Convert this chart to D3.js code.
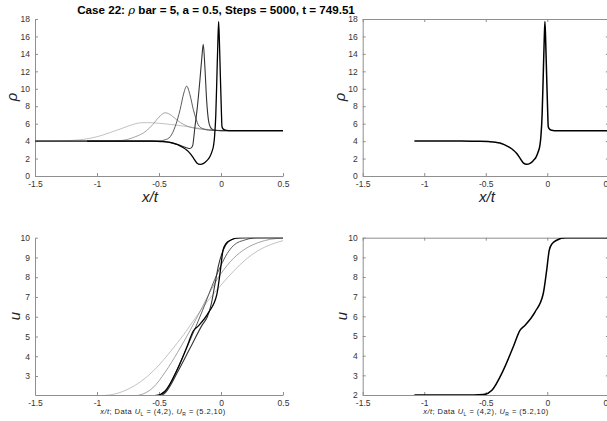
<!DOCTYPE html>
<html>
<head>
<meta charset="utf-8">
<script src="https://cdn.jsdelivr.net/npm/d3@7"></script>
<style>
body { margin: 0; background: #fff; }
svg { display: block; font-family: "Liberation Sans", Arial, Helvetica, sans-serif; }
</style>
</head>
<body>
<svg id="chart" width="607" height="421"></svg>
<script>
const xTicks = [-1.5, -1, -0.5, 0, 0.5];
const xTickLabels = ["-1.5", "-1", "-0.5", "0", "0.5"];
const rhoTicks = [0, 2, 4, 6, 8, 10, 12, 14, 16, 18];
const uTicksLeft = [3, 4, 5, 6, 7, 8, 9, 10];
const uTicksRight = [2, 3, 4, 5, 6, 7, 8, 9, 10];

// density at successive times, lightest = earliest
const rho1X = [-1.5, -1.3, -1.2, -1.1, -1.0, -0.9, -0.8, -0.7, -0.65, -0.6, -0.5, -0.4, -0.3, -0.2, -0.1, 0, 0.1, 0.5];
const rho1Y = [4.0, 4.02, 4.08, 4.22, 4.5, 4.95, 5.45, 5.95, 6.1, 6.12, 6.05, 5.9, 5.72, 5.52, 5.33, 5.23, 5.2, 5.2];
const rho2X = [-1.5, -0.9, -0.8, -0.7, -0.6, -0.55, -0.5, -0.45, -0.4, -0.35, -0.3, -0.25, -0.2, -0.1, 0, 0.5];
const rho2Y = [4.0, 4.01, 4.08, 4.45, 5.2, 5.9, 6.75, 7.25, 6.95, 6.35, 5.9, 5.6, 5.45, 5.28, 5.21, 5.2];
const rho3X = [-1.5, -0.6, -0.5, -0.45, -0.41, -0.37, -0.33, -0.3, -0.277, -0.25, -0.223, -0.2, -0.183, -0.15, -0.1, -0.05, 0, 0.5];
const rho3Y = [4.0, 4.0, 4.02, 4.15, 4.5, 5.65, 7.6, 9.5, 10.3, 9.3, 7.6, 6.5, 5.85, 5.45, 5.27, 5.22, 5.2, 5.2];
const rho4X = [-1.5, -0.6, -0.5, -0.45, -0.4, -0.35, -0.3, -0.27, -0.25, -0.23, -0.21, -0.19, -0.17, -0.155, -0.143, -0.13, -0.115, -0.1, -0.085, -0.07, -0.05, 0, 0.5];
const rho4Y = [4.0, 4.0, 3.98, 3.93, 3.8, 3.6, 3.35, 3.2, 3.15, 3.4, 5.65, 8.0, 11.0, 13.5, 15.1, 12.5, 8.5, 6.3, 5.6, 5.35, 5.25, 5.2, 5.2];
const rho5X = [-1.08, -0.7, -0.55, -0.48, -0.42, -0.385, -0.35, -0.31, -0.277, -0.25, -0.222, -0.195, -0.168, -0.14, -0.114, -0.09, -0.073, -0.06, -0.052, -0.042, -0.033, -0.025, -0.019, -0.012, -0.005, 0.003, 0.008, 0.02, 0.035, 0.06, 0.6];
const rho5Y = [4.0, 4.0, 3.99, 3.95, 3.88, 3.78, 3.6, 3.3, 2.98, 2.6, 2.05, 1.5, 1.34, 1.45, 1.76, 2.2, 2.8, 3.5, 4.5, 7.0, 11.4, 15.5, 17.7, 15.0, 11.4, 7.5, 5.65, 5.35, 5.25, 5.2, 5.2];

// velocity at the same times
const u1X = [-1.5, -1.0, -0.9, -0.8, -0.7, -0.6, -0.5, -0.4, -0.3, -0.2, -0.1, 0, 0.1, 0.2, 0.3, 0.4, 0.5];
const u1Y = [2.0, 2.0, 2.04, 2.2, 2.5, 2.95, 3.55, 4.3, 5.1, 6.0, 6.85, 7.6, 8.3, 8.9, 9.35, 9.65, 9.85];
const u2X = [-1.5, -0.7, -0.65, -0.55, -0.45, -0.35, -0.25, -0.15, -0.05, 0.05, 0.1, 0.2, 0.3, 0.4, 0.5];
const u2Y = [2.0, 2.0, 2.05, 2.4, 3.2, 4.2, 5.3, 6.5, 7.7, 8.6, 8.95, 9.45, 9.75, 9.92, 9.98];
const u3X = [-1.5, -0.5, -0.45, -0.35, -0.25, -0.15, -0.05, 0, 0.05, 0.1, 0.2, 0.3, 0.5];
const u3Y = [2.0, 2.0, 2.2, 3.4, 4.8, 6.3, 7.9, 8.6, 9.2, 9.6, 9.9, 10, 10];
const u4X = [-1.5, -0.5, -0.45, -0.35, -0.25, -0.15, -0.11, -0.08, -0.05, -0.02, 0.02, 0.06, 0.12, 0.2, 0.5];
const u4Y = [2.0, 2.0, 2.15, 3.2, 4.4, 5.6, 6.0, 6.6, 7.6, 8.6, 9.4, 9.8, 9.97, 10, 10];
const u5X = [-1.08, -0.6, -0.52, -0.452, -0.358, -0.277, -0.222, -0.182, -0.1, -0.033, -0.005, 0.016, 0.04, 0.076, 0.15, 0.6];
const u5Y = [2.0, 2.0, 2.02, 2.23, 3.25, 4.44, 5.29, 5.54, 6.22, 7.15, 8.34, 9.36, 9.7, 9.87, 10, 10];

const rhoSeries = [[rho1X, rho1Y], [rho2X, rho2Y], [rho3X, rho3Y], [rho4X, rho4Y], [rho5X, rho5Y]];
const uSeries = [[u1X, u1Y], [u2X, u2Y], [u3X, u3Y], [u4X, u4Y], [u5X, u5Y]];
const lineColors = ["#a8a8a8", "#8c8c8c", "#5a5a5a", "#333333", "#000000"];
const lineWidths = [0.7, 0.8, 1.0, 1.1, 1.3];

const axisColor = "#8f8f8f";
const textColor = "#333";
const svg = d3.select("#chart");

function styleAxis(g) {
  g.attr("font-family", null).attr("font-size", null);
  g.select(".domain").attr("stroke", axisColor).attr("stroke-width", 1);
  g.selectAll(".tick line").attr("stroke", axisColor);
  g.selectAll(".tick text").attr("fill", textColor).attr("font-size", 8.5);
}

function drawPanel(cfg) {
  const x = d3.scaleLinear().domain([-1.5, 0.5]).range([cfg.x0, cfg.x1]);
  const y = d3.scaleLinear().domain(cfg.yDomain).range([cfg.y1, cfg.y0]);

  svg.append("clipPath").attr("id", "clip-" + cfg.name)
    .append("rect")
    .attr("x", cfg.x0).attr("y", cfg.y0)
    .attr("width", cfg.x1 - cfg.x0).attr("height", cfg.y1 - cfg.y0);

  const xAxis = d3.axisBottom(x).tickValues(xTicks).tickFormat((d, i) => xTickLabels[i])
    .tickSizeInner(-3).tickSizeOuter(0).tickPadding(5);
  const yAxis = d3.axisLeft(y).tickValues(cfg.yTicks).tickFormat(d3.format("d"))
    .tickSizeInner(-3).tickSizeOuter(0).tickPadding(5);

  svg.append("g").attr("transform", `translate(0,${cfg.y1})`).call(xAxis).call(styleAxis);
  svg.append("g").attr("transform", `translate(${cfg.x0},0)`).call(yAxis).call(styleAxis);

  if (cfg.box) {
    svg.append("g").attr("transform", `translate(0,${cfg.y0})`)
      .call(d3.axisTop(x).tickValues(xTicks).tickFormat("").tickSizeInner(-3).tickSizeOuter(0))
      .call(styleAxis);
    svg.append("g").attr("transform", `translate(${cfg.x1},0)`)
      .call(d3.axisRight(y).tickValues(cfg.yTicks).tickFormat("").tickSizeInner(-3).tickSizeOuter(0))
      .call(styleAxis);
  }

  const plot = svg.append("g").attr("clip-path", `url(#clip-${cfg.name})`);
  cfg.series.forEach((s, k) => {
    const [xs, ys] = s;
    const line = d3.line()
      .curve(d3.curveMonotoneX)
      .x(i => x(xs[i]))
      .y(i => y(ys[i]));
    plot.append("path")
      .attr("fill", "none")
      .attr("stroke", cfg.colors[k])
      .attr("stroke-width", cfg.widths[k])
      .attr("stroke-linejoin", "round")
      .attr("d", line(d3.range(xs.length)));
  });
}

function yLabel(txt, cx, cy) {
  svg.append("text")
    .attr("transform", `translate(${cx},${cy}) rotate(-90)`)
    .attr("text-anchor", "middle").attr("dy", "0.35em")
    .attr("font-size", 15).attr("font-style", "italic").attr("fill", "#222")
    .text(txt);
}

function xLabel(cx, cy) {
  svg.append("text")
    .attr("x", cx).attr("y", cy)
    .attr("text-anchor", "middle")
    .attr("font-size", 15).attr("font-style", "italic").attr("fill", "#222")
    .text("x/t");
}

function dataLabel(cx, cy) {
  const t = svg.append("text")
    .attr("x", cx).attr("y", cy)
    .attr("text-anchor", "middle")
    .attr("font-size", 7.5).attr("letter-spacing", 0.45).attr("fill", "#222");
  t.append("tspan").attr("font-style", "italic").text("x/t");
  t.append("tspan").text(";  Data ");
  t.append("tspan").attr("font-style", "italic").text("U");
  t.append("tspan").attr("font-size", 5).attr("dy", 2).text("L");
  t.append("tspan").attr("dy", -2).text(" = (4,2), ");
  t.append("tspan").attr("font-style", "italic").text("U");
  t.append("tspan").attr("font-size", 5).attr("dy", 2).text("R");
  t.append("tspan").attr("dy", -2).text(" = (5.2,10)");
}

drawPanel({ name: "rhoAll", x0: 35, x1: 283, y0: 19, y1: 176, yDomain: [0, 18], yTicks: rhoTicks,
  series: rhoSeries, colors: lineColors, widths: lineWidths, box: false });
drawPanel({ name: "rhoLast", x0: 362.7, x1: 608.8, y0: 19, y1: 176, yDomain: [0, 18], yTicks: rhoTicks,
  series: [rhoSeries[4]], colors: ["#000"], widths: [1.5], box: true });
drawPanel({ name: "uAll", x0: 35, x1: 283, y0: 237.7, y1: 395, yDomain: [2.04, 10], yTicks: uTicksLeft,
  series: uSeries, colors: lineColors, widths: lineWidths, box: false });
drawPanel({ name: "uLast", x0: 362.7, x1: 608.8, y0: 237.7, y1: 395, yDomain: [2, 10], yTicks: uTicksRight,
  series: [uSeries[4]], colors: ["#000"], widths: [1.5], box: true });

yLabel("\u03c1", 12, 97);
yLabel("\u03c1", 340, 97);
yLabel("u", 15, 316);
yLabel("u", 342, 316);
xLabel(150, 202);
xLabel(487, 202);
dataLabel(163, 414);
dataLabel(486, 414);

const title = svg.append("text")
  .attr("x", 216).attr("y", 13.5)
  .attr("text-anchor", "middle")
  .attr("font-size", 12).attr("font-weight", "bold").attr("fill", "#000");
title.append("tspan").text("Case 22: ");
title.append("tspan").attr("font-style", "italic").attr("font-weight", "normal")
  .attr("font-family", "'DejaVu Serif', serif").text("\u03c1");
title.append("tspan").text(" bar = 5, a = 0.5, Steps = 5000, t = 749.51");
const tw = title.node().getComputedTextLength();
title.attr("font-size", 12 * 278 / tw);
</script>
</body>
</html>
